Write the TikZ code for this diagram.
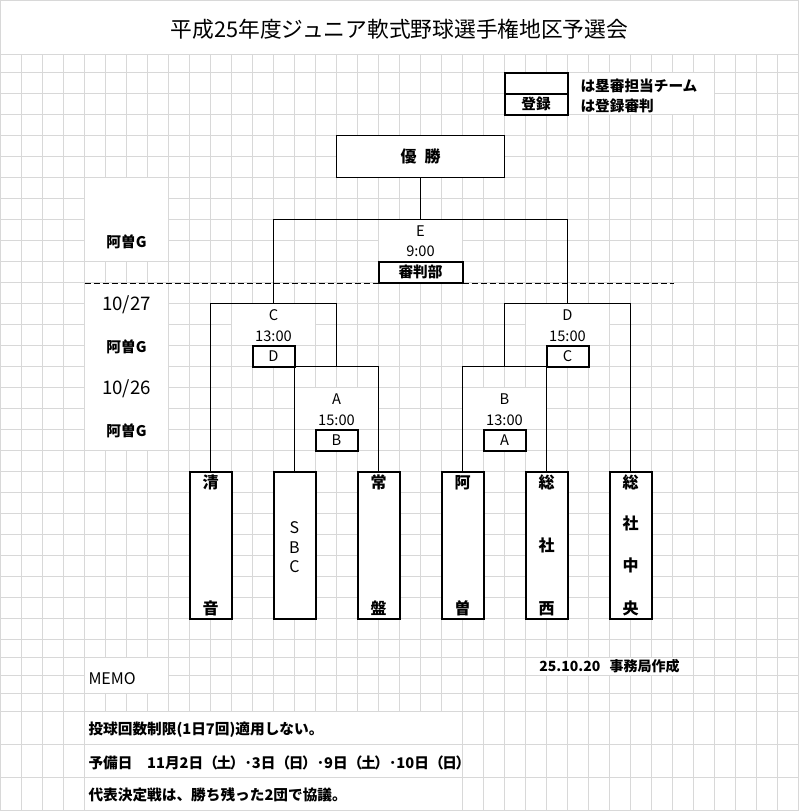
\documentclass[tikz,border=0pt]{standalone}
\usepackage{fontspec}
\setmainfont{Noto Sans CJK JP}
\definecolor{gridgray}{RGB}{216,216,216}
\newcommand\whitecell[4]{\fill[white] (#1+0.5,#2+0.5) rectangle (#3-0.5,#4-0.5);}
\newcommand\pday[1]{（\hspace{-1pt}#1\hspace{-1pt}）}
\begin{document}
\begin{tikzpicture}[x=0.75pt,y=-0.75pt,
  gridln/.style={draw=gridgray,line width=0.75pt},
  ln/.style={draw=black,line width=0.75pt},
  txt/.style={inner sep=0pt,outer sep=0pt},
  f11/.style={txt,font=\fontsize{11}{13}\selectfont},
  b11/.style={txt,font=\fontsize{11}{13}\selectfont\bfseries},
  f12/.style={txt,font=\fontsize{12}{14}\selectfont},
  b12/.style={txt,font=\fontsize{12}{14}\selectfont\bfseries},
  f14/.style={txt,font=\fontsize{14}{16}\selectfont},
  smallbox/.style={draw,line width=1.5pt,fill=white,inner sep=0pt,minimum width=31.5pt,minimum height=15.75pt,font=\fontsize{11}{13}\selectfont},
  teambox/.style={draw,line width=1.5pt,fill=white,inner sep=0pt,minimum width=31.5pt,minimum height=110.25pt},
]
\useasboundingbox (0,0) rectangle (799,811);
\fill[white] (0,0) rectangle (799,811);
\begin{scope}[shift={(0.5,0.5)}]
% ---- grid
\foreach \i in {1,...,37} {\draw[gridln] (21*\i,54) -- (21*\i,810);}
\foreach \y in {54,72,93,...,639} {\draw[gridln] (0,\y) -- (798,\y);}
\foreach \y in {657,675,693,711,744,777} {\draw[gridln] (0,\y) -- (798,\y);}
\draw[gridln] (0,0) rectangle (798,810);
% ---- merged (blank) cells
\whitecell{84}{177}{168}{261}
\whitecell{84}{282}{168}{450}
\whitecell{567}{72}{714}{114}
\whitecell{378}{219}{462}{261}
\whitecell{231}{303}{315}{345}
\whitecell{525}{303}{609}{345}
\whitecell{294}{387}{378}{429}
\whitecell{462}{387}{546}{429}
\whitecell{84}{657}{168}{693}
\whitecell{525}{657}{693}{675}
\whitecell{84}{711}{462}{744}
\whitecell{84}{744}{462}{777}
\whitecell{84}{777}{462}{810}
% ---- title
\node[txt,font=\fontsize{16.3}{18}\selectfont] (title) at (399,29) {平成25年度ジュニア軟式野球選手権地区予選会};
% ---- legend
\node[smallbox,minimum width=47.25pt] (lg1) at (535.5,82.5) {};
\node[smallbox,minimum width=47.25pt,font=\fontsize{11}{13}\selectfont\bfseries] (lg2) at (535.5,103.5) {登録};
\node[b11,anchor=west] (lt1) at (580,85) {は塁審担当チーム};
\node[b11,anchor=west] (lt2) at (580,105) {は登録審判};
% ---- champion box
\node[draw,line width=0.75pt,fill=white,inner sep=0pt,minimum width=126pt,minimum height=31.5pt,font=\fontsize{12}{14}\selectfont\bfseries] (win) at (420,156) {優\hspace{6pt}勝};
% ---- team boxes
\node[teambox] (t1) at (210,544.5) {};
\node[teambox] (t2) at (294,544.5) {};
\node[teambox] (t3) at (378,544.5) {};
\node[teambox] (t4) at (462,544.5) {};
\node[teambox] (t5) at (546,544.5) {};
\node[teambox] (t6) at (630,544.5) {};
% ---- bracket junctions
\coordinate (jE) at (420,219);
\coordinate (eR) at (567,219);
\coordinate (cM) at (273,303);
\coordinate (cR) at (336,303);
\coordinate (dM) at (567,303);
\coordinate (dL) at (504,303);
\coordinate (aM) at (336,366);
\coordinate (aR) at (378,366);
\coordinate (bM) at (504,366);
\coordinate (bR) at (546,366);
\coordinate (dash1) at (84,283);
\coordinate (dash2) at (673,283);
% ---- connectors
\draw[ln] (win.south) -- (jE);
\draw[ln] (cM) |- (eR) -- (dM);
\draw[ln] (t1.north) |- (cR) -- (aM);
\draw[ln] (t2.north) |- (aR) -- (t3.north);
\draw[ln] (t6.north) |- (dL) -- (bM);
\draw[ln] (t4.north) |- (bR) -- (t5.north);
\draw[ln,dash pattern=on 4.5pt off 2.25pt] (dash1) -- (dash2);
% ---- referee boxes
\node[smallbox,minimum width=63pt,font=\fontsize{11}{13}\selectfont\bfseries] (refE) at (420,271.5) {審判部};
\node[smallbox] (refC) at (273,355.5) {D};
\node[smallbox] (refD) at (567,355.5) {C};
\node[smallbox] (refA) at (336,439.5) {B};
\node[smallbox] (refB) at (504,439.5) {A};
% ---- match labels
\node[f11] (lE) at (420,231) {E};
\node[f11] (tE) at (420,251) {9:00};
\node[f11] (lC) at (273,315) {C};
\node[f11] (tC) at (273,336) {13:00};
\node[f11] (lD) at (567,315) {D};
\node[f11] (tD) at (567,336) {15:00};
\node[f11] (lA) at (336,399) {A};
\node[f11] (tA) at (336,420) {15:00};
\node[f11] (lB) at (504,399) {B};
\node[f11] (tB) at (504,420) {13:00};
% ---- left labels
\node[b11] (g1) at (126,241) {阿曽G};
\node[f14] (d1) at (126,304) {10/27};
\node[b11] (g2) at (126,346) {阿曽G};
\node[f14] (d2) at (126,388) {10/26};
\node[b11] (g3) at (126,430) {阿曽G};
% ---- team names
\node[b12] (n1a) at (210,482) {清};
\node[b12] (n1b) at (210,608) {音};
\node[f12] (n2a) at (294,527) {S};
\node[f12] (n2b) at (294,547) {B};
\node[f12] (n2c) at (294,566) {C};
\node[b12] (n3a) at (378,482) {常};
\node[b12] (n3b) at (378,608) {盤};
\node[b12] (n4a) at (462,482) {阿};
\node[b12] (n4b) at (462,608) {曽};
\node[b12] (n5a) at (546,482) {総};
\node[b12] (n5b) at (546,545) {社};
\node[b12] (n5c) at (546,608) {西};
\node[b12] (n6a) at (630,482) {総};
\node[b12] (n6b) at (630,523) {社};
\node[b12] (n6c) at (630,565) {中};
\node[b12] (n6d) at (630,608) {央};
% ---- memo
\node[f12,anchor=west] (memo) at (88,678) {MEMO};
\node[txt,font=\fontsize{10.5}{12}\selectfont\bfseries] (date) at (609,666) {25.10.20\hspace{7pt}事務局作成};
\node[b11,anchor=west] (m1) at (88,729) {投球回数制限(1日7回)適用しない。};
\node[b11,anchor=west] (m2) at (88,762) {予備日　11月2日\pday{土}･3日\pday{日}･9日\pday{土}･10日\pday{日}};
\node[b11,anchor=west] (m3) at (88,794) {代表決定戦は、勝ち残った2団で協議。};
\end{scope}
\end{tikzpicture}
\end{document}
